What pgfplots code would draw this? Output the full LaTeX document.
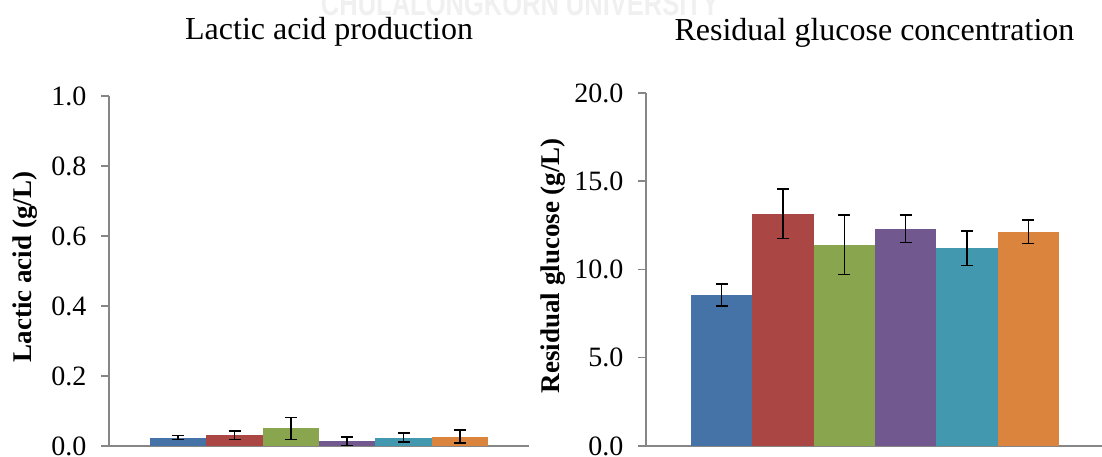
\documentclass[border=0pt]{standalone}
\usepackage{fontspec}
\setmainfont{Liberation Serif}
\newfontfamily\wmfont{Liberation Sans}
\usepackage{pgfplots}
\pgfplotsset{compat=1.18}
\definecolor{c1}{HTML}{4572A7}
\definecolor{c2}{HTML}{AA4643}
\definecolor{c3}{HTML}{89A54E}
\definecolor{c4}{HTML}{71588F}
\definecolor{c5}{HTML}{4198AF}
\definecolor{c6}{HTML}{DB843D}
\definecolor{axgray}{HTML}{868686}
\pgfplotsset{
  myax/.style={
    scale only axis, anchor=south west,
    axis x line=bottom, axis y line=left,
    axis line style={-, axgray, line width=1.5pt},
    xtick=\empty,
    tick align=outside, major tick length=8pt,
    ytick style={axgray, line width=1.5pt},
    ymin=0,
    enlargelimits=false,
    bar width=1,
    yticklabel style={font=\fontsize{28}{32}\selectfont, text=black, anchor=east, xshift=-11pt},
    /pgf/number format/assume math mode=true,
    /pgf/number format/fixed, /pgf/number format/fixed zerofill, /pgf/number format/precision=1,
    title style={font=\fontsize{32}{38}\selectfont, anchor=base},
    clip=false,
  },
  mybar/.style={ybar, bar shift=0pt, fill=#1, draw=none,
    error bars/.cd, y dir=both, y explicit,
    error bar style={black, line width=1.5pt},
    error mark options={black, rotate=90, mark size=6pt, line width=1.5pt}},
}
\begin{document}
\begin{tikzpicture}
\path[use as bounding box] (0,0) rectangle (1102pt,457pt);
\node[font=\wmfont\bfseries\fontsize{34}{40}\selectfont, text=black!6, anchor=base] at (520pt,441pt) {\scalebox{0.75}[1]{CHULALONGKORN UNIVERSITY}};
\begin{axis}[myax,
  at={(109pt,11pt)}, width=420pt, height=350pt,
  xmin=-1.228, xmax=6.228, ymax=1.0, ytick distance=0.2,
  title={Lactic acid production},
  title style={at={(axis description cs:0.524,1.143)}},
  ylabel={Lactic acid (g/L)},
  every axis y label/.style={at={(axis description cs:-0.2,0.511)}, rotate=90, anchor=center, font=\fontsize{27}{32}\selectfont\bfseries},
]
\addplot[mybar=c1] coordinates {(0,0.024) +- (0,0.006)};
\addplot[mybar=c2] coordinates {(1,0.031) +- (0,0.012)};
\addplot[mybar=c3] coordinates {(2,0.050) +- (0,0.031)};
\addplot[mybar=c4] coordinates {(3,0.013) +- (0,0.012)};
\addplot[mybar=c5] coordinates {(4,0.024) +- (0,0.013)};
\addplot[mybar=c6] coordinates {(5,0.027) +- (0,0.018)};
\end{axis}
\begin{axis}[myax,
  at={(646pt,11pt)}, width=456pt, height=353pt,
  xmin=-1.234, xmax=6.20, ymax=20, ytick distance=5,
  title={Residual glucose concentration},
  title style={at={(axis description cs:0.501,1.133)}},
  ylabel={Residual glucose (g/L)},
  every axis y label/.style={at={(axis description cs:-0.204,0.511)}, rotate=90, anchor=center, font=\fontsize{27}{32}\selectfont\bfseries},
]
\addplot[mybar=c1] coordinates {(0,8.56) +- (0,0.63)};
\addplot[mybar=c2] coordinates {(1,13.15) +- (0,1.40)};
\addplot[mybar=c3] coordinates {(2,11.40) +- (0,1.69)};
\addplot[mybar=c4] coordinates {(3,12.30) +- (0,0.78)};
\addplot[mybar=c5] coordinates {(4,11.21) +- (0,0.97)};
\addplot[mybar=c6] coordinates {(5,12.13) +- (0,0.67)};
\end{axis}
\end{tikzpicture}
\end{document}
